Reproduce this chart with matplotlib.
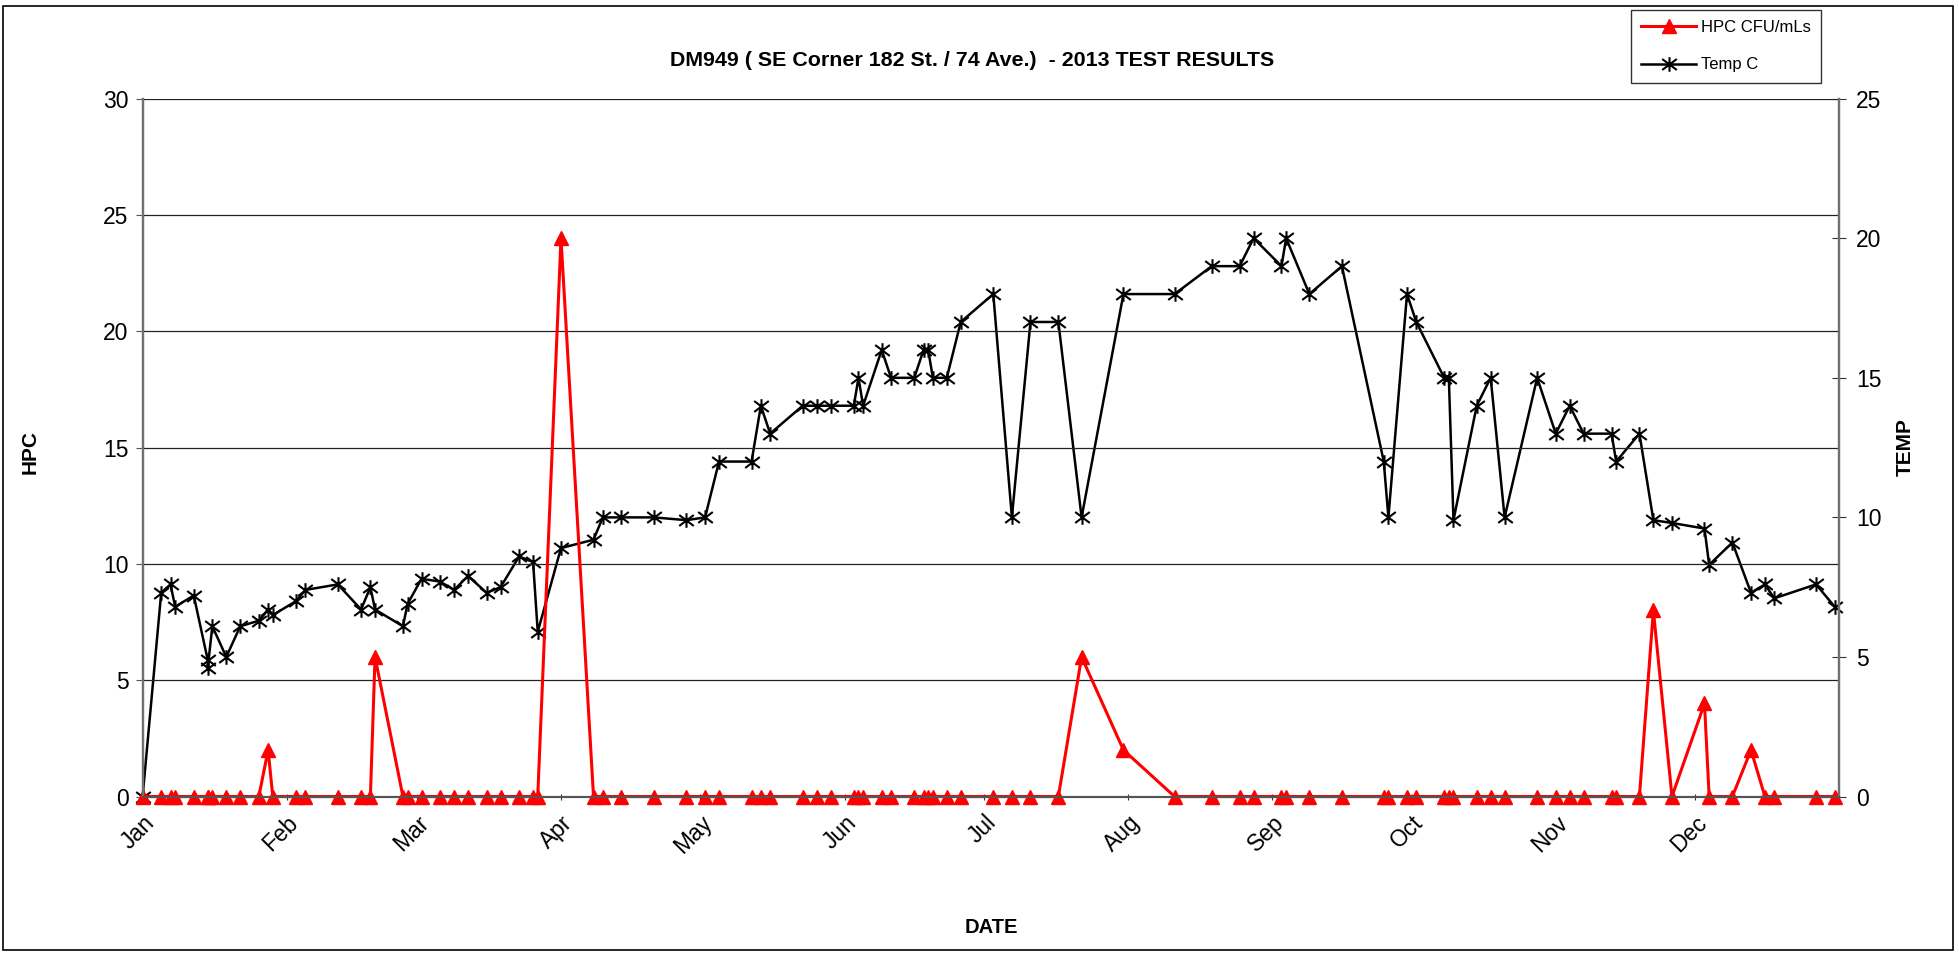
import numpy as np
import matplotlib.pyplot as plt
import matplotlib.dates as mdates
from matplotlib.path import Path
from matplotlib.patches import Rectangle

plt.rcParams['font.family'] = ['Liberation Sans', 'DejaVu Sans']

# sample dates for 2013, HPC counts and water temperature
dates = [
    "2013-01-01", "2013-01-05", "2013-01-07", "2013-01-08", "2013-01-12",
    "2013-01-15", "2013-01-15", "2013-01-16", "2013-01-19", "2013-01-22",
    "2013-01-26", "2013-01-28", "2013-01-29", "2013-02-03", "2013-02-05",
    "2013-02-12", "2013-02-17", "2013-02-19", "2013-02-20", "2013-02-26",
    "2013-02-27", "2013-03-02", "2013-03-06", "2013-03-09", "2013-03-12",
    "2013-03-16", "2013-03-19", "2013-03-23", "2013-03-26", "2013-03-27",
    "2013-04-01", "2013-04-08", "2013-04-10", "2013-04-14", "2013-04-21",
    "2013-04-28", "2013-05-02", "2013-05-05", "2013-05-12", "2013-05-14",
    "2013-05-16", "2013-05-23", "2013-05-26", "2013-05-29", "2013-06-03",
    "2013-06-04", "2013-06-05", "2013-06-09", "2013-06-11", "2013-06-16",
    "2013-06-18", "2013-06-19", "2013-06-20", "2013-06-23", "2013-06-26",
    "2013-07-03", "2013-07-07", "2013-07-11", "2013-07-17", "2013-07-22",
    "2013-07-31", "2013-08-11", "2013-08-19", "2013-08-25", "2013-08-28",
    "2013-09-03", "2013-09-04", "2013-09-09", "2013-09-16", "2013-09-25",
    "2013-09-26", "2013-09-30", "2013-10-02", "2013-10-08", "2013-10-09",
    "2013-10-10", "2013-10-15", "2013-10-18", "2013-10-21", "2013-10-28",
    "2013-11-01", "2013-11-04", "2013-11-07", "2013-11-13", "2013-11-14",
    "2013-11-19", "2013-11-22", "2013-11-26", "2013-12-03", "2013-12-04",
    "2013-12-09", "2013-12-13", "2013-12-16", "2013-12-18", "2013-12-27",
    "2013-12-31",
]

hpc = [
    0, 0, 0, 0, 0,
    0, 0, 0, 0, 0,
    0, 2, 0, 0, 0,
    0, 0, 0, 6, 0,
    0, 0, 0, 0, 0,
    0, 0, 0, 0, 0,
    24, 0, 0, 0, 0,
    0, 0, 0, 0, 0,
    0, 0, 0, 0, 0,
    0, 0, 0, 0, 0,
    0, 0, 0, 0, 0,
    0, 0, 0, 0, 6,
    2, 0, 0, 0, 0,
    0, 0, 0, 0, 0,
    0, 0, 0, 0, 0,
    0, 0, 0, 0, 0,
    0, 0, 0, 0, 0,
    0, 8, 0, 4, 0,
    0, 2, 0, 0, 0,
    0,
]

temp = [
    0, 7.3, 7.6, 6.8, 7.2,
    4.9, 4.6, 6.1, 5.0, 6.1,
    6.3, 6.7, 6.5, 7.0, 7.4,
    7.6, 6.7, 7.5, 6.7, 6.1,
    6.9, 7.8, 7.7, 7.4, 7.9,
    7.3, 7.5, 8.6, 8.4, 5.9,
    8.9, 9.2, 10, 10, 10,
    9.9, 10, 12, 12, 14,
    13, 14, 14, 14, 14,
    15, 14, 16, 15, 15,
    16, 16, 15, 15, 17,
    18, 10, 17, 17, 10,
    18, 18, 19, 19, 20,
    19, 20, 18, 19, 12,
    10, 18, 17, 15, 15,
    9.9, 14, 15, 10, 15,
    13, 14, 13, 13, 12,
    13, 9.9, 9.8, 9.6, 8.3,
    9.1, 7.3, 7.6, 7.1, 7.6,
    6.8,
]

x = np.array(dates, dtype="datetime64[D]")

# asterisk-like marker: vertical bar plus an X
star = Path(
    [(0, -1), (0, 1), (-1, -0.75), (1, 0.75), (-1, 0.75), (1, -0.75)],
    [Path.MOVETO, Path.LINETO, Path.MOVETO, Path.LINETO, Path.MOVETO, Path.LINETO],
)

fig = plt.figure(figsize=(19.59, 9.56), dpi=100)
ax = fig.add_axes([0.0728, 0.1668, 0.8661, 0.73])
ax2 = ax.twinx()

l1, = ax.plot(x, hpc, color="red", lw=2.2, marker="^", ms=10,
              mec="red", mfc="red", label="HPC CFU/mLs", clip_on=False)
l2, = ax2.plot(x, temp, color="black", lw=1.8, marker=star, ms=10.5,
               mew=1.5, mec="black", label="Temp C", clip_on=False)

ax.set_zorder(ax2.get_zorder() + 1)
ax.patch.set_visible(False)

ax.set_ylim(0, 30)
ax2.set_ylim(0, 25)
ax.set_yticks(range(0, 31, 5))
ax2.set_yticks(range(0, 26, 5))
ax.set_xlim(np.datetime64("2013-01-01"), np.datetime64("2014-01-01"))

month_starts = np.arange("2013-01", "2014-01", dtype="datetime64[M]").astype("datetime64[D]")
ax.set_xticks(month_starts)
ax.xaxis.set_major_formatter(mdates.DateFormatter("%b"))
for lab in ax.get_xticklabels():
    lab.set_rotation(45)
    lab.set_ha("right")
    lab.set_rotation_mode("anchor")

ax.grid(axis="y", color="#222222", lw=0.9)
ax.set_axisbelow(True)

for a in (ax, ax2):
    a.spines["top"].set_visible(False)
    a.spines["left"].set_color("#707070")
    a.spines["right"].set_color("#707070")
    a.spines["left"].set_linewidth(1.6)
    a.spines["right"].set_linewidth(1.6)
    a.spines["bottom"].set_color("#555555")
    a.spines["bottom"].set_linewidth(1.5)

ax.tick_params(axis="y", labelsize=16.5, length=5, color="#555555", pad=5)
ax.tick_params(axis="x", labelsize=16.5, length=5, direction="inout",
               color="#333333", pad=8)
ax2.tick_params(axis="y", labelsize=16.5, length=10, direction="inout",
                color="#333333", pad=7)

fig.text(0.496, 0.937, "DM949 ( SE Corner 182 St. / 74 Ave.)  - 2013 TEST RESULTS",
         ha="center", va="center", fontsize=15.4, fontweight="bold")
fig.text(0.506, 0.030, "DATE", ha="center", va="center",
         fontsize=14.5, fontweight="bold")
fig.text(0.0155, 0.527, "HPC", ha="center", va="center", rotation=90,
         fontsize=15, fontweight="bold")
fig.text(0.9725, 0.532, "TEMP", ha="center", va="center", rotation=90,
         fontsize=15, fontweight="bold")

fig.legend(handles=[l1, l2], loc="upper left",
           bbox_to_anchor=(1631 / 1959, 1 - 10 / 956),
           fontsize=12, frameon=True, fancybox=False, edgecolor="black",
           handlelength=3.3, borderpad=0.6, labelspacing=1.35,
           handletextpad=0.3, borderaxespad=0)

fig.patches.append(Rectangle((3 / 1959, 6 / 956), 1950 / 1959, 944 / 956,
                             transform=fig.transFigure, fill=False,
                             edgecolor="black", lw=1.2))

fig.savefig("out.png", dpi=100)
